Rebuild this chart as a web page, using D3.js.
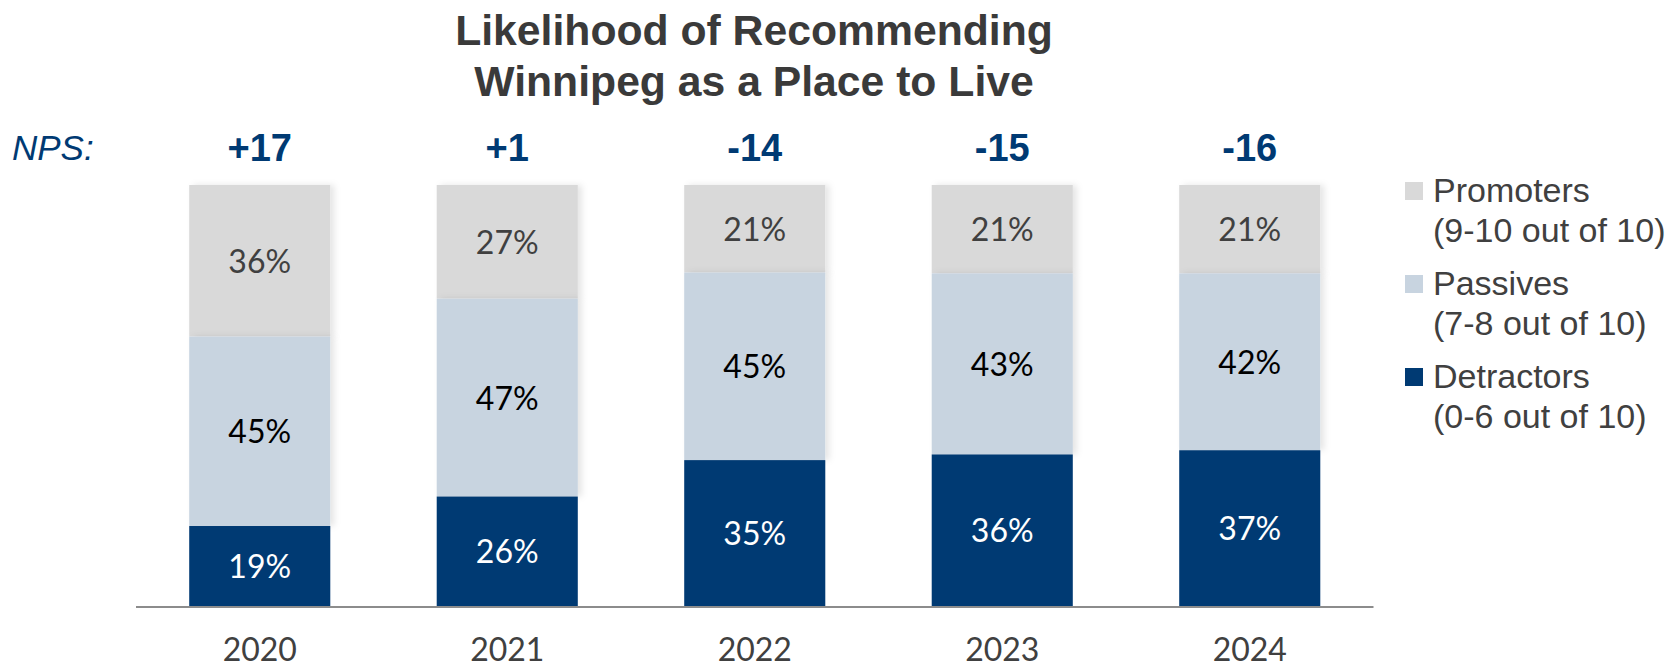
<!DOCTYPE html>
<html>
<head>
<meta charset="utf-8">
<script src="https://cdn.jsdelivr.net/npm/d3@7"></script>
<style>
  html, body { margin: 0; padding: 0; background: #fff; }
  svg { display: block; }
</style>
</head>
<body>
<svg id="chart" width="1672" height="668"></svg>
<script>
// Survey results by year (percent of respondents)
const years = ["2020", "2021", "2022", "2023", "2024"];
const detractors = [19, 26, 35, 36, 37];
const passives = [45, 47, 45, 43, 42];
const promoters = [36, 27, 21, 21, 21];

const seriesKeys = ["detractors", "passives", "promoters"];
const legendTitles = ["Promoters", "Passives", "Detractors"];
const legendRanges = ["(9-10 out of 10)", "(7-8 out of 10)", "(0-6 out of 10)"];
const legendKeys = ["promoters", "passives", "detractors"];

const titleLines = ["Likelihood of Recommending", "Winnipeg as a Place to Live"];

const colors = { promoters: "#d9d9d9", passives: "#c8d4e0", detractors: "#003a73" };
const labelColors = { promoters: "#404040", passives: "#000000", detractors: "#ffffff" };

const rows = years.map((y, i) => ({
  year: y,
  detractors: detractors[i],
  passives: passives[i],
  promoters: promoters[i]
}));

const svg = d3.select("#chart");
const sansFont = "'Liberation Sans', Arial, sans-serif";
const bodyFont = "Lato, 'Open Sans', sans-serif";

const x = d3.scaleBand()
  .domain(years)
  .range([136, 1373.5])
  .paddingInner(0.43)
  .paddingOuter(0.215);

const y = d3.scaleLinear().domain([0, 1]).range([606, 185]);

const stacked = d3.stack()
  .keys(seriesKeys)
  .offset(d3.stackOffsetExpand)(rows);

// soft shadow on the lighter segments
const defs = svg.append("defs");
const f = defs.append("filter").attr("id", "soft").attr("x", "-10%").attr("y", "-10%")
  .attr("width", "130%").attr("height", "120%");
f.append("feDropShadow").attr("dx", 4).attr("dy", 0).attr("stdDeviation", 3)
  .attr("flood-color", "#000").attr("flood-opacity", 0.10);

// Title
svg.append("g")
  .selectAll("text")
  .data(titleLines)
  .join("text")
  .attr("x", 754)
  .attr("y", (d, i) => 45 + i * 50.5)
  .attr("text-anchor", "middle")
  .attr("font-family", sansFont)
  .attr("font-weight", "bold")
  .attr("font-size", 42.7)
  .attr("fill", "#3a3a3a")
  .text(d => d);

// Bars: lighter layers drawn first so their shadow sits behind the navy base
const order = ["promoters", "passives", "detractors"];
order.forEach(key => {
  const layer = stacked.find(s => s.key === key);
  const g = svg.append("g").attr("class", "layer-" + key);
  if (key !== "detractors") g.attr("filter", "url(#soft)");
  g.selectAll("rect")
    .data(layer)
    .join("rect")
    .attr("x", d => x(d.data.year))
    .attr("width", x.bandwidth())
    .attr("y", d => y(d[1]))
    .attr("height", d => y(d[0]) - y(d[1]))
    .attr("fill", colors[key]);
});

// Segment value labels
stacked.forEach(layer => {
  svg.append("g")
    .selectAll("text")
    .data(layer)
    .join("text")
    .attr("x", d => x(d.data.year) + x.bandwidth() / 2)
    .attr("y", d => (y(d[0]) + y(d[1])) / 2 + 12)
    .attr("text-anchor", "middle")
    .attr("font-family", bodyFont)
    .attr("font-size", 32)
    .attr("fill", labelColors[layer.key])
    .text(d => d.data[layer.key] + "%");
});

// Baseline axis with year labels
const xAxis = d3.axisBottom(x).tickSize(0).tickPadding(0);
const axisG = svg.append("g").attr("transform", "translate(0,607)").call(xAxis);
axisG.select(".domain").attr("stroke", "#8c8c8c").attr("stroke-width", 2)
  .attr("d", "M136,0H1373.5");
axisG.selectAll(".tick text")
  .attr("y", 54)
  .attr("dy", 0)
  .attr("font-family", bodyFont)
  .attr("font-size", 32)
  .attr("fill", "#404040");

// NPS row
svg.append("text")
  .attr("x", 12)
  .attr("y", 160)
  .attr("font-family", sansFont)
  .attr("font-style", "italic")
  .attr("font-size", 35)
  .attr("fill", "#003a73")
  .text("NPS:");

svg.append("g")
  .selectAll("text")
  .data(rows)
  .join("text")
  .attr("x", d => x(d.year) + x.bandwidth() / 2)
  .attr("y", 161)
  .attr("text-anchor", "middle")
  .attr("font-family", sansFont)
  .attr("font-weight", "bold")
  .attr("font-size", 38)
  .attr("fill", "#003a73")
  .text(d => {
    const v = d.promoters - d.detractors;
    return (v > 0 ? "+" : "") + v;
  });

// Legend
const legend = svg.append("g").attr("transform", "translate(1405,182)");
const items = legend.selectAll("g")
  .data(legendKeys)
  .join("g")
  .attr("transform", (d, i) => `translate(0,${i * 93})`);
items.append("rect")
  .attr("width", 18).attr("height", 18)
  .attr("fill", d => colors[d]);
items.append("text")
  .attr("x", 28).attr("y", 20)
  .attr("font-family", sansFont)
  .attr("font-size", 34)
  .attr("fill", "#404040")
  .text((d, i) => legendTitles[i]);
items.append("text")
  .attr("x", 28).attr("y", 60)
  .attr("font-family", sansFont)
  .attr("font-size", 34)
  .attr("fill", "#404040")
  .text((d, i) => legendRanges[i]);
</script>
</body>
</html>
